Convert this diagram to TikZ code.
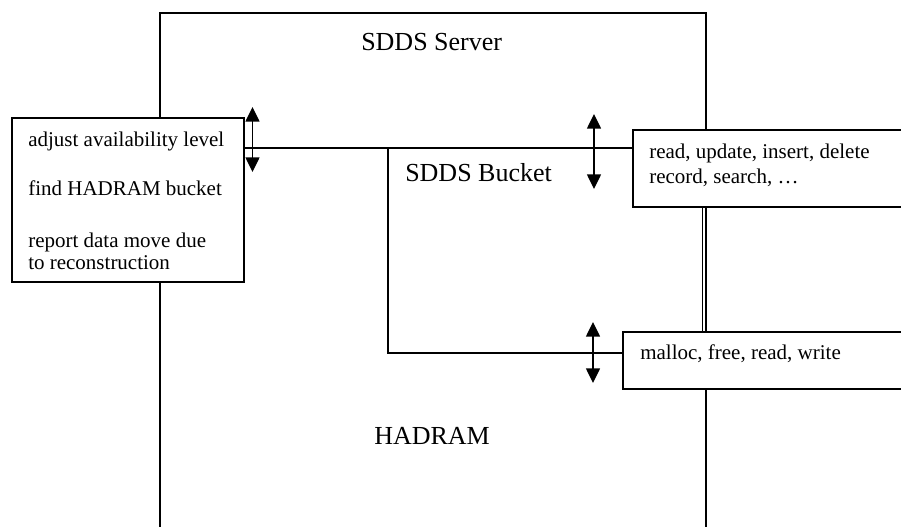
\documentclass[tikz,border=0pt]{standalone}
\usepackage{fontspec}
\setmainfont{Liberation Serif}
\usetikzlibrary{arrows.meta}

\tikzset{
  wire/.style={line width=1.5pt, line cap=rect},
  opbox/.style={draw, line width=1.5pt, fill=white, rectangle, anchor=north west,
                inner sep=0pt, outer sep=0pt},
  bigtext/.style={anchor=base west, inner sep=0pt, font=\fontsize{19.5}{23}\selectfont},
  smalltext/.style={anchor=base west, inner sep=0pt, font=\fontsize{15.75}{19}\selectfont},
  flow/.style={line width=1.1pt, {Triangle[width=10.5pt,length=11pt]}-{Triangle[width=10.5pt,length=11pt]}},
}

\begin{document}
\begin{tikzpicture}[x=0.75pt, y=-0.75pt]
  \useasboundingbox (0,0) rectangle (901,527);
  \clip (0,0) rectangle (901,527);
  \fill[white] (0,0) rectangle (901,527);

  % server outline, open at the bottom
  \coordinate (srvBL) at (160,540);
  \coordinate (srvTL) at (160,13);
  \coordinate (srvTR) at (705.5,13);
  \coordinate (srvBR) at (705.5,540);
  \draw[wire] (srvBL) -- (srvTL) -- (srvTR) -- (srvBR);

  % interface boxes (sizes in pt: 1 unit = 0.75pt)
  \node[opbox, minimum width=174pt, minimum height=123pt] (lbox) at (12,118) {};
  \node[opbox, minimum width=225pt, minimum height=57.75pt] (ubox) at (633,130) {};
  \node[opbox, minimum width=232.5pt, minimum height=42.75pt] (mbox) at (623,332) {};

  % second line of the right side between the two boxes
  \draw[line width=1pt] (702.5,0 |- ubox.south) -- (702.5,0 |- mbox.north);

  % bus from the left interface to the bucket interface
  \coordinate (bus) at (0,148);
  \draw[wire] (lbox.east |- bus) -- (ubox.west |- bus);

  % SDDS bucket outline
  \coordinate (bkTop) at (388,148);
  \coordinate (bkBot) at (388,353);
  \draw[wire] (bkTop) -- (bkBot) -- (mbox.west |- bkBot);

  % labels
  \node[bigtext] (server) at (361,51) {SDDS Server};
  \node[bigtext] (bucket) at (405,182) {SDDS Bucket};
  \node[bigtext] (hadram) at (374,445) {HADRAM};

  \node[smalltext] (l1) at (28,147) {adjust availability level};
  \node[smalltext] (l2) at (28,196) {find HADRAM bucket};
  \node[smalltext] (l3) at (28,247.5) {report data move due};
  \node[smalltext] (l4) at (28,269.3) {to reconstruction};

  \node[smalltext] (u1) at (649,159) {read, update, insert, delete};
  \node[smalltext] (u2) at (649,184) {record, search, …};

  \node[smalltext] (m1) at (640,360) {malloc, free, read, write};

  % two-way arrows
  \coordinate (a1t) at (252.5,107);
  \coordinate (a1b) at (252.5,172);
  \coordinate (a2t) at (594,114);
  \coordinate (a2b) at (594,189);
  \coordinate (a3t) at (593,322);
  \coordinate (a3b) at (593,383);
  \draw[flow] (a1t) -- (a1b);
  \draw[flow] (a2t) -- (a2b);
  \draw[flow] (a3t) -- (a3b);
\end{tikzpicture}
\end{document}
